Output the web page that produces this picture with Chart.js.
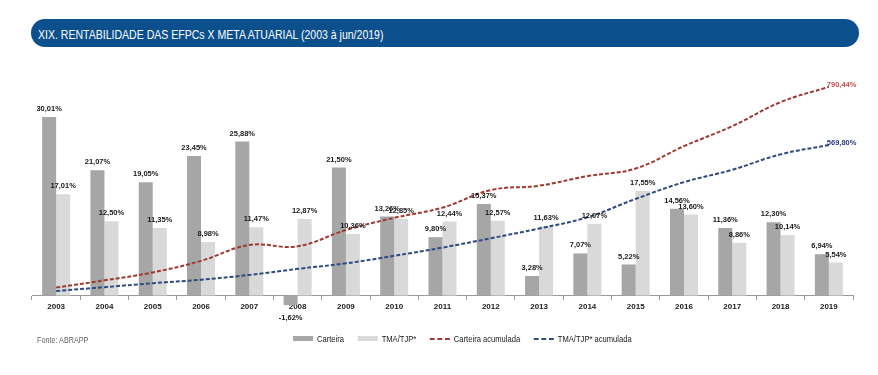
<!DOCTYPE html>
<html>
<head>
<meta charset="utf-8">
<script src="https://cdn.jsdelivr.net/npm/chart.js@4.4.1/dist/chart.umd.min.js"></script>
<style>
html, body { margin: 0; padding: 0; background: #fff; }
#wrap { position: relative; width: 878px; height: 375px; overflow: hidden; background: #fff; }
#banner {
  position: absolute; left: 31px; top: 19px; width: 828px; height: 28px;
  background: #0b4f8c; border-radius: 14px; color: #fff; box-sizing: border-box;
  font: 13px "Liberation Sans", Arial, sans-serif; line-height: 31px;
}
#banner span { position: absolute; left: 7px; top: 0; white-space: nowrap;
  transform: scaleX(0.81); transform-origin: left center; }
#chart { position: absolute; left: 0; top: 0; }
#fonte { position: absolute; left: 37px; top: 335px; color: #666; white-space: nowrap;
  font: 8.5px "Liberation Sans", Arial, sans-serif;
  transform: scaleX(0.85); transform-origin: left top; }
#legend { position: absolute; left: 293px; top: 333px; display: flex; align-items: center;
  white-space: nowrap; font: 9.5px "Liberation Sans", Arial, sans-serif; color: #1a1a1a;
  transform: scaleX(0.8); transform-origin: left center; }
#legend .item { display: flex; align-items: center; margin-right: 17px; }
#legend .sw { width: 25px; margin-right: 5px; }
</style>
</head>
<body>
<div id="wrap">
  <div id="banner"><span>XIX. RENTABILIDADE DAS EFPCs X META ATUARIAL (2003 à jun/2019)</span></div>
  <canvas id="chart" width="878" height="375"></canvas>
  <div id="fonte">Fonte: ABRAPP</div>
  <div id="legend"></div>
</div>
<script>
const years = ['2003', '2004', '2005', '2006', '2007', '2008', '2009', '2010', '2011',
  '2012', '2013', '2014', '2015', '2016', '2017', '2018', '2019'];
const carteira = [30.01, 21.07, 19.05, 23.45, 25.88, -1.62, 21.50, 13.26, 9.80,
  15.37, 3.28, 7.07, 5.22, 14.56, 11.36, 12.30, 6.94];
const tma = [17.01, 12.50, 11.35, 8.98, 11.47, 12.87, 10.36, 12.85, 12.44,
  12.57, 11.63, 12.07, 17.55, 13.60, 8.86, 10.14, 5.54];
const carteiraAcum = [30.0, 57.4, 87.4, 131.3, 191.2, 186.5, 248.1, 294.2, 332.9,
  399.4, 415.8, 452.2, 481.1, 565.7, 641.3, 732.5, 790.44];
const tmaAcum = [17.0, 31.6, 46.6, 59.7, 78.1, 101.0, 121.8, 150.3, 181.4,
  216.8, 253.7, 296.4, 365.9, 429.3, 476.2, 534.6, 569.80];

const fmt = v => v.toFixed(2).replace('.', ',') + '%';

const labelPlugin = {
  id: 'valueLabels',
  afterDatasetsDraw: (chart) => {
    const ctx = chart.ctx;
    ctx.save();
    ctx.font = 'bold 7.5px "Liberation Sans", Arial, sans-serif';
    ctx.textBaseline = 'middle';
    chart.data.datasets.forEach((ds, i) => {
      const meta = chart.getDatasetMeta(i);
      if (ds.type === 'bar') {
        ctx.fillStyle = '#1a1a1a';
        ctx.textAlign = 'center';
        meta.data.forEach((el, j) => {
          const v = ds.data[j];
          const y = v >= 0 ? el.y - 8 : el.y + 13;
          ctx.fillText(fmt(v), el.x, y);
        });
      } else {
        const last = meta.data.length - 1;
        const el = meta.data[last];
        ctx.fillStyle = ds.labelColor;
        ctx.textAlign = 'left';
        ctx.fillText(fmt(ds.data[last]), el.x - 2, el.y - 2);
      }
    });
    ctx.restore();
  }
};

const chart = new Chart(document.getElementById('chart'), {
  data: {
    labels: years,
    datasets: [
      {
        type: 'bar', label: 'Carteira', data: carteira, yAxisID: 'y',
        backgroundColor: '#a6a6a6', categoryPercentage: 0.58, barPercentage: 1, order: 2
      },
      {
        type: 'bar', label: 'TMA/TJP*', data: tma, yAxisID: 'y',
        backgroundColor: '#d9d9d9', categoryPercentage: 0.58, barPercentage: 1, order: 2
      },
      {
        type: 'line', label: 'Carteira acumulada', data: carteiraAcum, yAxisID: 'y1',
        borderColor: '#9e3a2f', labelColor: '#c0504d', borderWidth: 2, borderDash: [4, 2],
        pointRadius: 0, tension: 0.4, fill: false, order: 1
      },
      {
        type: 'line', label: 'TMA/TJP* acumulada', data: tmaAcum, yAxisID: 'y1',
        borderColor: '#2f4a7e', labelColor: '#2f3a7e', borderWidth: 2, borderDash: [4, 2],
        pointRadius: 0, tension: 0.4, fill: false, order: 1
      }
    ]
  },
  options: {
    animation: false,
    responsive: false,
    layout: { padding: { left: 32, right: 25, top: 80, bottom: 55 } },
    plugins: {
      legend: { display: false },
      tooltip: { enabled: false }
    },
    scales: {
      x: {
        position: { y: 0 },
        offset: true,
        grid: { display: true, drawOnChartArea: false, drawTicks: true, tickLength: 4, color: '#999', offset: true },
        border: { display: true, color: '#999' },
        ticks: { color: '#222', padding: 2, font: { family: '"Liberation Sans", Arial, sans-serif', size: 8, weight: 'bold' } }
      },
      y: { display: false, min: -4.118, max: 36.22 },
      y1: { display: false, min: -92.8, max: 816.3 }
    }
  },
  plugins: [labelPlugin]
});

// legend built from the datasets
const legend = document.getElementById('legend');
chart.data.datasets.forEach(ds => {
  const item = document.createElement('div');
  item.className = 'item';
  const sw = document.createElement('span');
  sw.className = 'sw';
  if (ds.type === 'bar') {
    sw.style.height = '5px';
    sw.style.background = ds.backgroundColor;
  } else {
    sw.style.height = '0';
    sw.style.borderTop = '2px dashed ' + ds.borderColor;
  }
  const txt = document.createElement('span');
  txt.textContent = ds.label;
  item.appendChild(sw);
  item.appendChild(txt);
  legend.appendChild(item);
});
</script>
</body>
</html>
